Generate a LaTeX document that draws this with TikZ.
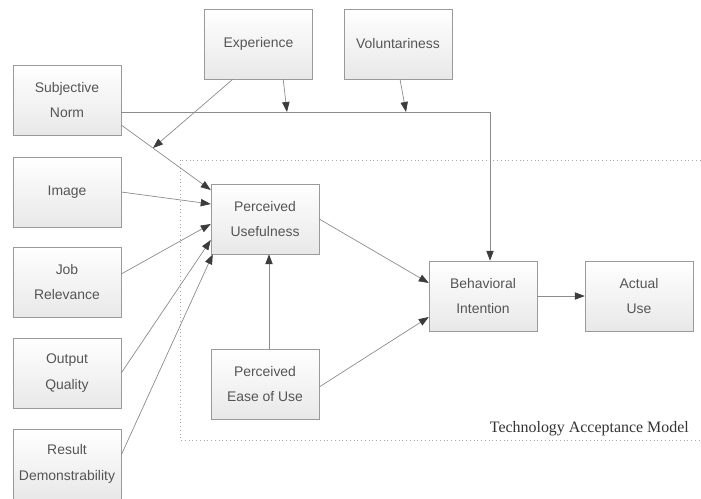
\documentclass[tikz,border=0pt]{standalone}
\usepackage{fontspec}
\setmainfont{Liberation Sans}
\newfontfamily\tamfont{Liberation Serif}
\usetikzlibrary{arrows.meta,positioning,shadows}
\definecolor{boxline}{HTML}{9A9A9A}
\definecolor{boxtext}{HTML}{555555}
\definecolor{wire}{HTML}{8C8C8C}
\definecolor{tipgray}{HTML}{3C3C3C}

\begin{document}
\begin{tikzpicture}[x=0.03cm,y=-0.03cm,
  block/.style={draw=boxline,top color=white,bottom color=black!9,
    align=center,minimum width=3.24cm,minimum height=2.1cm,inner sep=0pt,
    text=boxtext,font=\fontsize{11.9}{22}\selectfont,
    drop shadow={shadow xshift=0.6pt,shadow yshift=-0.6pt,opacity=0.2}},
  flow/.style={draw=wire,line width=0.6pt,
    -{Triangle[length=0.3cm,width=0.22cm,color=tipgray]}},
  frame/.style={draw=black!35,line width=0.6pt,dash pattern=on 0.6pt off 2.6pt}]
\useasboundingbox (0,0) rectangle (701,498);
\draw[frame] (180,160) rectangle (730,440);
\node[anchor=base east,inner sep=0pt,text=black!80,
  font=\tamfont\fontsize{13.6}{16}\selectfont] (tam) at (689,432)
  {Technology Acceptance Model};
\node[block] (exp) at (258.5,44) {Experience};
\node[block] (vol) at (398,44) {Voluntariness};
\node[block] (sn) at (67,100) {Subjective\\Norm};
\node[block] (img) at (67,192) {Image};
\node[block] (jr) at (67,282) {Job\\Relevance};
\node[block] (oq) at (67,373) {Output\\Quality};
\node[block] (rd) at (67,464) {Result\\Demonstrability};
\node[block] (pu) at (265,219) {Perceived\\Usefulness};
\node[block] (peou) at (265,384) {Perceived\\Ease of Use};
\node[block] (bi) at (483,296) {Behavioral\\Intention};
\node[block] (au) at (639,296) {Actual\\Use};
\coordinate (m1) at (287,112);
\coordinate (m2) at (406,112);
\coordinate (m3) at (153,148);
\draw[flow] ([yshift=-0.36cm]sn.east) -| ([xshift=0.21cm]bi.north);
\draw[flow] ([xshift=0.74cm]exp.south) -- (m1);
\draw[flow] ([xshift=0.06cm]vol.south) -- (m2);
\draw[flow] ([yshift=-0.75cm]sn.east) -- ([yshift=0.87cm]pu.west);
\draw[flow] ([xshift=-0.77cm]exp.south) -- (m3);
\draw[flow] (img.east) -- ([yshift=0.45cm]pu.west);
\draw[flow] ([yshift=0.24cm]jr.east) -- ([yshift=-0.15cm]pu.west);
\draw[flow] (oq.east) -- ([yshift=-0.63cm]pu.west);
\draw[flow] ([yshift=0.27cm]rd.east) -- ([xshift=0.06cm]pu.south west);
\draw[flow] ([xshift=0.12cm]peou.north) -- ([xshift=0.12cm]pu.south);
\draw[flow] (pu.east) -- ([yshift=0.39cm]bi.west);
\draw[flow] ([yshift=-0.09cm]peou.east) -- ([yshift=-0.63cm]bi.west);
\draw[flow] (bi.east) -- (au.west);
\end{tikzpicture}
\end{document}
